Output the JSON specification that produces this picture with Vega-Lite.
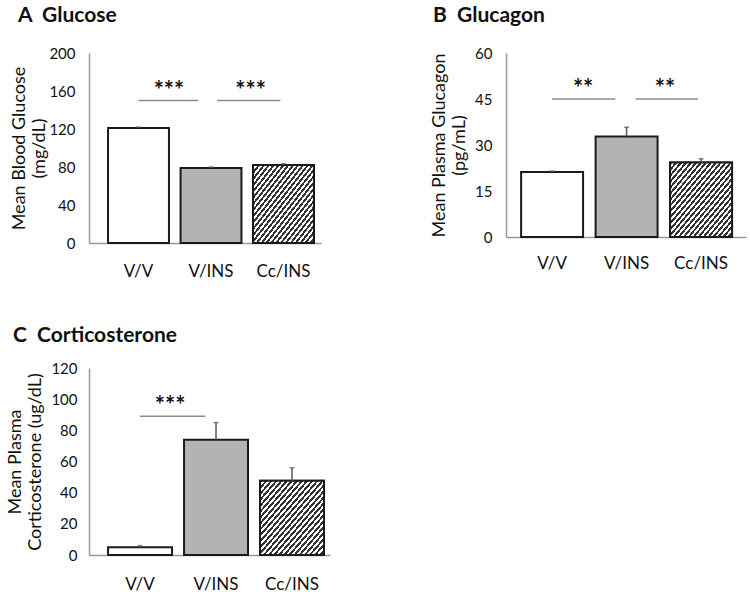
{
  "$schema": "https://vega.github.io/schema/vega-lite/v6.json",
  "background": "white",
  "padding": {"left": 6, "top": 5, "right": 5, "bottom": 3},
  "config": {
    "font": "Lato",
    "view": {"stroke": null},
    "axis": {"grid": false, "domainColor": "#9a9a9a", "domainWidth": 1.5, "ticks": false, "labelOverlap": false, "labelColor": "#111", "labelFont": "Lato", "titleFont": "Lato", "titleColor": "#111", "titleFontWeight": "normal"},
    "title": {"font": "Lato", "fontSize": 21, "fontWeight": "bold", "anchor": "start", "color": "#111", "frame": "group"}
  },
  "bounds": "flush",
  "columns": 2,
  "spacing": {"row": 125, "column": 176},
  "concat": [
        {
          "title": {"text": "A\u00a0\u00a0Glucose", "offset": 20, "dx": -71},
          "width": 232, "height": 190,
          "data": {"values": [
            {"group": "V/V", "mean": 121, "upper": 122},
            {"group": "V/INS", "mean": 79, "upper": 80},
            {"group": "Cc/INS", "mean": 82, "upper": 83.5}
          ]},
          "layer": [
            {"mark": {"type": "bar", "stroke": "#1a1a1a", "strokeWidth": 2},
             "encoding": {
               "x": {"field": "group", "type": "nominal", "scale": {"domain": ["V/V", "V/INS", "Cc/INS"], "paddingInner": 0.16, "paddingOuter": 0.18, "align": 0.73}, "axis": {"title": null, "labelAngle": 0, "labelFontSize": 17, "labelPadding": 20}},
               "y": {"field": "mean", "type": "quantitative", "scale": {"domain": [0, 200], "nice": false}, "axis": {"values": [0, 40, 80, 120, 160, 200], "tickCount": 20, "labelOverlap": false, "title": ["Mean Blood Glucose", "(mg/dL)"], "titleFontSize": 18, "titleLineHeight": 20, "labelFontSize": 15, "labelPadding": 14, "titlePadding": 0}},
               "fill": {"field": "group", "type": "nominal", "scale": {"domain": ["V/V", "V/INS", "Cc/INS"], "range": ["#ffffff", "#b3b3b3", "#ffffff"]}, "legend": null}
             }},
            {"transform": [{"filter": "datum.group === 'Cc/INS'"}],
             "mark": {"type": "bar", "stroke": "#1a1a1a", "strokeWidth": 2, "fill": {"gradient": "linear", "x1": 0, "y1": 0, "x2": 1, "y2": 1, "stops": [
{"offset":0,"color":"#333"},{"offset":0.02,"color":"#333"},{"offset":0.02,"color":"#fff"},{"offset":0.04,"color":"#fff"},
{"offset":0.04,"color":"#333"},{"offset":0.06,"color":"#333"},{"offset":0.06,"color":"#fff"},{"offset":0.08,"color":"#fff"},
{"offset":0.08,"color":"#333"},{"offset":0.1,"color":"#333"},{"offset":0.1,"color":"#fff"},{"offset":0.12,"color":"#fff"},
{"offset":0.12,"color":"#333"},{"offset":0.14,"color":"#333"},{"offset":0.14,"color":"#fff"},{"offset":0.16,"color":"#fff"},
{"offset":0.16,"color":"#333"},{"offset":0.18,"color":"#333"},{"offset":0.18,"color":"#fff"},{"offset":0.2,"color":"#fff"},
{"offset":0.2,"color":"#333"},{"offset":0.22,"color":"#333"},{"offset":0.22,"color":"#fff"},{"offset":0.24,"color":"#fff"},
{"offset":0.24,"color":"#333"},{"offset":0.26,"color":"#333"},{"offset":0.26,"color":"#fff"},{"offset":0.28,"color":"#fff"},
{"offset":0.28,"color":"#333"},{"offset":0.3,"color":"#333"},{"offset":0.3,"color":"#fff"},{"offset":0.32,"color":"#fff"},
{"offset":0.32,"color":"#333"},{"offset":0.34,"color":"#333"},{"offset":0.34,"color":"#fff"},{"offset":0.36,"color":"#fff"},
{"offset":0.36,"color":"#333"},{"offset":0.38,"color":"#333"},{"offset":0.38,"color":"#fff"},{"offset":0.4,"color":"#fff"},
{"offset":0.4,"color":"#333"},{"offset":0.42,"color":"#333"},{"offset":0.42,"color":"#fff"},{"offset":0.44,"color":"#fff"},
{"offset":0.44,"color":"#333"},{"offset":0.46,"color":"#333"},{"offset":0.46,"color":"#fff"},{"offset":0.48,"color":"#fff"},
{"offset":0.48,"color":"#333"},{"offset":0.5,"color":"#333"},{"offset":0.5,"color":"#fff"},{"offset":0.52,"color":"#fff"},
{"offset":0.52,"color":"#333"},{"offset":0.54,"color":"#333"},{"offset":0.54,"color":"#fff"},{"offset":0.56,"color":"#fff"},
{"offset":0.56,"color":"#333"},{"offset":0.58,"color":"#333"},{"offset":0.58,"color":"#fff"},{"offset":0.6,"color":"#fff"},
{"offset":0.6,"color":"#333"},{"offset":0.62,"color":"#333"},{"offset":0.62,"color":"#fff"},{"offset":0.64,"color":"#fff"},
{"offset":0.64,"color":"#333"},{"offset":0.66,"color":"#333"},{"offset":0.66,"color":"#fff"},{"offset":0.68,"color":"#fff"},
{"offset":0.68,"color":"#333"},{"offset":0.7,"color":"#333"},{"offset":0.7,"color":"#fff"},{"offset":0.72,"color":"#fff"},
{"offset":0.72,"color":"#333"},{"offset":0.74,"color":"#333"},{"offset":0.74,"color":"#fff"},{"offset":0.76,"color":"#fff"},
{"offset":0.76,"color":"#333"},{"offset":0.78,"color":"#333"},{"offset":0.78,"color":"#fff"},{"offset":0.8,"color":"#fff"},
{"offset":0.8,"color":"#333"},{"offset":0.82,"color":"#333"},{"offset":0.82,"color":"#fff"},{"offset":0.84,"color":"#fff"},
{"offset":0.84,"color":"#333"},{"offset":0.86,"color":"#333"},{"offset":0.86,"color":"#fff"},{"offset":0.88,"color":"#fff"},
{"offset":0.88,"color":"#333"},{"offset":0.9,"color":"#333"},{"offset":0.9,"color":"#fff"},{"offset":0.92,"color":"#fff"},
{"offset":0.92,"color":"#333"},{"offset":0.94,"color":"#333"},{"offset":0.94,"color":"#fff"},{"offset":0.96,"color":"#fff"},
{"offset":0.96,"color":"#333"},{"offset":0.98,"color":"#333"},{"offset":0.98,"color":"#fff"},{"offset":1,"color":"#fff"}]}},
             "encoding": {"x": {"field": "group", "type": "nominal"}, "y": {"field": "mean", "type": "quantitative"}}},
            {"mark": {"type": "rule", "color": "#555", "strokeWidth": 1.5},
             "encoding": {"x": {"field": "group", "type": "nominal"}, "y": {"field": "mean", "type": "quantitative"}, "y2": {"field": "upper"}}},
            {"mark": {"type": "tick", "color": "#555", "thickness": 1.5, "size": 5, "orient": "horizontal"},
             "encoding": {"x": {"field": "group", "type": "nominal"}, "y": {"field": "upper", "type": "quantitative"}}},
            {"data": {"values": [
              {"from": "V/V", "to": "V/INS", "y": 150, "stars": "***"},
              {"from": "V/INS", "to": "Cc/INS", "y": 150, "stars": "***"}
            ]},
             "layer": [
               {"transform": [{"filter": "datum.from === 'V/V'"}], "mark": {"type": "rule", "color": "#8c8c8c", "strokeWidth": 1.5},
                "encoding": {"x": {"field": "from", "type": "nominal", "bandPosition": 0.5}, "x2": {"field": "to", "bandPosition": 0.29}, "y": {"field": "y", "type": "quantitative"}}},
               {"transform": [{"filter": "datum.from === 'V/INS'"}], "mark": {"type": "rule", "color": "#8c8c8c", "strokeWidth": 1.5},
                "encoding": {"x": {"field": "from", "type": "nominal", "bandPosition": 0.6}, "x2": {"field": "to", "bandPosition": 0.45}, "y": {"field": "y", "type": "quantitative"}}},
               {"transform": [{"filter": "datum.from === 'V/V'"}], "mark": {"type": "text", "fontSize": 24, "fontWeight": "bold", "baseline": "alphabetic", "dy": -2, "color": "#111"},
                "encoding": {"x": {"field": "from", "type": "nominal", "bandPosition": 1.0}, "y": {"field": "y", "type": "quantitative"}, "text": {"field": "stars"}}},
               {"transform": [{"filter": "datum.from === 'V/INS'"}], "mark": {"type": "text", "fontSize": 24, "fontWeight": "bold", "baseline": "alphabetic", "dy": -2, "color": "#111"},
                "encoding": {"x": {"field": "from", "type": "nominal", "bandPosition": 1.15}, "y": {"field": "y", "type": "quantitative"}, "text": {"field": "stars"}}}
             ]}
          ]
        },
        {
          "title": {"text": "B\u00a0\u00a0Glucagon", "offset": 20, "dx": -73},
          "width": 240, "height": 184,
          "data": {"values": [
            {"group": "V/V", "mean": 21.2, "upper": 21.5},
            {"group": "V/INS", "mean": 32.8, "upper": 35.8},
            {"group": "Cc/INS", "mean": 24.3, "upper": 25.5}
          ]},
          "layer": [
            {"mark": {"type": "bar", "stroke": "#1a1a1a", "strokeWidth": 2},
             "encoding": {
               "x": {"field": "group", "type": "nominal", "scale": {"domain": ["V/V", "V/INS", "Cc/INS"], "paddingInner": 0.168, "paddingOuter": 0.195, "align": 0.52}, "axis": {"title": null, "labelAngle": 0, "labelFontSize": 17, "labelPadding": 18}},
               "y": {"field": "mean", "type": "quantitative", "scale": {"domain": [0, 60], "nice": false}, "axis": {"values": [0, 15, 30, 45, 60], "tickCount": 20, "labelOverlap": false, "title": ["Mean Plasma Glucagon", "(pg/mL)"], "titleFontSize": 18, "labelFontSize": 15, "labelPadding": 14, "titlePadding": 6}},
               "fill": {"field": "group", "type": "nominal", "scale": {"domain": ["V/V", "V/INS", "Cc/INS"], "range": ["#ffffff", "#b3b3b3", "#ffffff"]}, "legend": null}
             }},
            {"transform": [{"filter": "datum.group === 'Cc/INS'"}],
             "mark": {"type": "bar", "stroke": "#1a1a1a", "strokeWidth": 2, "fill": {"gradient": "linear", "x1": 0, "y1": 0, "x2": 1, "y2": 1, "stops": [
{"offset":0,"color":"#333"},{"offset":0.02,"color":"#333"},{"offset":0.02,"color":"#fff"},{"offset":0.04,"color":"#fff"},
{"offset":0.04,"color":"#333"},{"offset":0.06,"color":"#333"},{"offset":0.06,"color":"#fff"},{"offset":0.08,"color":"#fff"},
{"offset":0.08,"color":"#333"},{"offset":0.1,"color":"#333"},{"offset":0.1,"color":"#fff"},{"offset":0.12,"color":"#fff"},
{"offset":0.12,"color":"#333"},{"offset":0.14,"color":"#333"},{"offset":0.14,"color":"#fff"},{"offset":0.16,"color":"#fff"},
{"offset":0.16,"color":"#333"},{"offset":0.18,"color":"#333"},{"offset":0.18,"color":"#fff"},{"offset":0.2,"color":"#fff"},
{"offset":0.2,"color":"#333"},{"offset":0.22,"color":"#333"},{"offset":0.22,"color":"#fff"},{"offset":0.24,"color":"#fff"},
{"offset":0.24,"color":"#333"},{"offset":0.26,"color":"#333"},{"offset":0.26,"color":"#fff"},{"offset":0.28,"color":"#fff"},
{"offset":0.28,"color":"#333"},{"offset":0.3,"color":"#333"},{"offset":0.3,"color":"#fff"},{"offset":0.32,"color":"#fff"},
{"offset":0.32,"color":"#333"},{"offset":0.34,"color":"#333"},{"offset":0.34,"color":"#fff"},{"offset":0.36,"color":"#fff"},
{"offset":0.36,"color":"#333"},{"offset":0.38,"color":"#333"},{"offset":0.38,"color":"#fff"},{"offset":0.4,"color":"#fff"},
{"offset":0.4,"color":"#333"},{"offset":0.42,"color":"#333"},{"offset":0.42,"color":"#fff"},{"offset":0.44,"color":"#fff"},
{"offset":0.44,"color":"#333"},{"offset":0.46,"color":"#333"},{"offset":0.46,"color":"#fff"},{"offset":0.48,"color":"#fff"},
{"offset":0.48,"color":"#333"},{"offset":0.5,"color":"#333"},{"offset":0.5,"color":"#fff"},{"offset":0.52,"color":"#fff"},
{"offset":0.52,"color":"#333"},{"offset":0.54,"color":"#333"},{"offset":0.54,"color":"#fff"},{"offset":0.56,"color":"#fff"},
{"offset":0.56,"color":"#333"},{"offset":0.58,"color":"#333"},{"offset":0.58,"color":"#fff"},{"offset":0.6,"color":"#fff"},
{"offset":0.6,"color":"#333"},{"offset":0.62,"color":"#333"},{"offset":0.62,"color":"#fff"},{"offset":0.64,"color":"#fff"},
{"offset":0.64,"color":"#333"},{"offset":0.66,"color":"#333"},{"offset":0.66,"color":"#fff"},{"offset":0.68,"color":"#fff"},
{"offset":0.68,"color":"#333"},{"offset":0.7,"color":"#333"},{"offset":0.7,"color":"#fff"},{"offset":0.72,"color":"#fff"},
{"offset":0.72,"color":"#333"},{"offset":0.74,"color":"#333"},{"offset":0.74,"color":"#fff"},{"offset":0.76,"color":"#fff"},
{"offset":0.76,"color":"#333"},{"offset":0.78,"color":"#333"},{"offset":0.78,"color":"#fff"},{"offset":0.8,"color":"#fff"},
{"offset":0.8,"color":"#333"},{"offset":0.82,"color":"#333"},{"offset":0.82,"color":"#fff"},{"offset":0.84,"color":"#fff"},
{"offset":0.84,"color":"#333"},{"offset":0.86,"color":"#333"},{"offset":0.86,"color":"#fff"},{"offset":0.88,"color":"#fff"},
{"offset":0.88,"color":"#333"},{"offset":0.9,"color":"#333"},{"offset":0.9,"color":"#fff"},{"offset":0.92,"color":"#fff"},
{"offset":0.92,"color":"#333"},{"offset":0.94,"color":"#333"},{"offset":0.94,"color":"#fff"},{"offset":0.96,"color":"#fff"},
{"offset":0.96,"color":"#333"},{"offset":0.98,"color":"#333"},{"offset":0.98,"color":"#fff"},{"offset":1,"color":"#fff"}]}},
             "encoding": {"x": {"field": "group", "type": "nominal"}, "y": {"field": "mean", "type": "quantitative"}}},
            {"mark": {"type": "rule", "color": "#555", "strokeWidth": 1.5},
             "encoding": {"x": {"field": "group", "type": "nominal"}, "y": {"field": "mean", "type": "quantitative"}, "y2": {"field": "upper"}}},
            {"mark": {"type": "tick", "color": "#555", "thickness": 1.5, "size": 5, "orient": "horizontal"},
             "encoding": {"x": {"field": "group", "type": "nominal"}, "y": {"field": "upper", "type": "quantitative"}}},
            {"data": {"values": [
              {"from": "V/V", "to": "V/INS", "y": 45, "stars": "**"},
              {"from": "V/INS", "to": "Cc/INS", "y": 45, "stars": "**"}
            ]},
             "layer": [
               {"transform": [{"filter": "datum.from === 'V/V'"}], "mark": {"type": "rule", "color": "#8c8c8c", "strokeWidth": 1.5},
                "encoding": {"x": {"field": "from", "type": "nominal", "bandPosition": 0.5}, "x2": {"field": "to", "bandPosition": 0.32}, "y": {"field": "y", "type": "quantitative"}}},
               {"transform": [{"filter": "datum.from === 'V/INS'"}], "mark": {"type": "rule", "color": "#8c8c8c", "strokeWidth": 1.5},
                "encoding": {"x": {"field": "from", "type": "nominal", "bandPosition": 0.645}, "x2": {"field": "to", "bandPosition": 0.45}, "y": {"field": "y", "type": "quantitative"}}},
               {"transform": [{"filter": "datum.from === 'V/V'"}], "mark": {"type": "text", "fontSize": 24, "fontWeight": "bold", "baseline": "alphabetic", "dy": -2, "color": "#111"},
                "encoding": {"x": {"field": "from", "type": "nominal", "bandPosition": 1.0}, "y": {"field": "y", "type": "quantitative"}, "text": {"field": "stars"}}},
               {"transform": [{"filter": "datum.from === 'V/INS'"}], "mark": {"type": "text", "fontSize": 24, "fontWeight": "bold", "baseline": "alphabetic", "dy": -2, "color": "#111"},
                "encoding": {"x": {"field": "from", "type": "nominal", "bandPosition": 1.12}, "y": {"field": "y", "type": "quantitative"}, "text": {"field": "stars"}}}
             ]}
          ]
        },
    {
      "title": {"text": "C\u00a0\u00a0Corticosterone", "offset": 15, "dx": -76},
      "width": 241, "height": 187,
      "data": {"values": [
        {"group": "V/V", "mean": 5, "upper": 6},
        {"group": "V/INS", "mean": 74, "upper": 85},
        {"group": "Cc/INS", "mean": 47.7, "upper": 56}
      ]},
      "layer": [
        {"mark": {"type": "bar", "stroke": "#1a1a1a", "strokeWidth": 2},
         "encoding": {
           "x": {"field": "group", "type": "nominal", "scale": {"domain": ["V/V", "V/INS", "Cc/INS"], "paddingInner": 0.158, "paddingOuter": 0.165, "align": 0.76}, "axis": {"title": null, "labelAngle": 0, "labelFontSize": 17, "labelPadding": 21}},
           "y": {"field": "mean", "type": "quantitative", "scale": {"domain": [0, 120], "nice": false}, "axis": {"values": [0, 20, 40, 60, 80, 100, 120], "tickCount": 20, "labelOverlap": false, "title": ["Mean Plasma", "Corticosterone (ug/dL)"], "titleFontSize": 18, "labelFontSize": 15, "labelPadding": 12, "titlePadding": 6}},
           "fill": {"field": "group", "type": "nominal", "scale": {"domain": ["V/V", "V/INS", "Cc/INS"], "range": ["#ffffff", "#b3b3b3", "#ffffff"]}, "legend": null}
         }},
        {"transform": [{"filter": "datum.group === 'Cc/INS'"}],
         "mark": {"type": "bar", "stroke": "#1a1a1a", "strokeWidth": 2, "fill": {"gradient": "linear", "x1": 0, "y1": 0, "x2": 1, "y2": 1, "stops": [
{"offset":0,"color":"#333"},{"offset":0.02,"color":"#333"},{"offset":0.02,"color":"#fff"},{"offset":0.04,"color":"#fff"},
{"offset":0.04,"color":"#333"},{"offset":0.06,"color":"#333"},{"offset":0.06,"color":"#fff"},{"offset":0.08,"color":"#fff"},
{"offset":0.08,"color":"#333"},{"offset":0.1,"color":"#333"},{"offset":0.1,"color":"#fff"},{"offset":0.12,"color":"#fff"},
{"offset":0.12,"color":"#333"},{"offset":0.14,"color":"#333"},{"offset":0.14,"color":"#fff"},{"offset":0.16,"color":"#fff"},
{"offset":0.16,"color":"#333"},{"offset":0.18,"color":"#333"},{"offset":0.18,"color":"#fff"},{"offset":0.2,"color":"#fff"},
{"offset":0.2,"color":"#333"},{"offset":0.22,"color":"#333"},{"offset":0.22,"color":"#fff"},{"offset":0.24,"color":"#fff"},
{"offset":0.24,"color":"#333"},{"offset":0.26,"color":"#333"},{"offset":0.26,"color":"#fff"},{"offset":0.28,"color":"#fff"},
{"offset":0.28,"color":"#333"},{"offset":0.3,"color":"#333"},{"offset":0.3,"color":"#fff"},{"offset":0.32,"color":"#fff"},
{"offset":0.32,"color":"#333"},{"offset":0.34,"color":"#333"},{"offset":0.34,"color":"#fff"},{"offset":0.36,"color":"#fff"},
{"offset":0.36,"color":"#333"},{"offset":0.38,"color":"#333"},{"offset":0.38,"color":"#fff"},{"offset":0.4,"color":"#fff"},
{"offset":0.4,"color":"#333"},{"offset":0.42,"color":"#333"},{"offset":0.42,"color":"#fff"},{"offset":0.44,"color":"#fff"},
{"offset":0.44,"color":"#333"},{"offset":0.46,"color":"#333"},{"offset":0.46,"color":"#fff"},{"offset":0.48,"color":"#fff"},
{"offset":0.48,"color":"#333"},{"offset":0.5,"color":"#333"},{"offset":0.5,"color":"#fff"},{"offset":0.52,"color":"#fff"},
{"offset":0.52,"color":"#333"},{"offset":0.54,"color":"#333"},{"offset":0.54,"color":"#fff"},{"offset":0.56,"color":"#fff"},
{"offset":0.56,"color":"#333"},{"offset":0.58,"color":"#333"},{"offset":0.58,"color":"#fff"},{"offset":0.6,"color":"#fff"},
{"offset":0.6,"color":"#333"},{"offset":0.62,"color":"#333"},{"offset":0.62,"color":"#fff"},{"offset":0.64,"color":"#fff"},
{"offset":0.64,"color":"#333"},{"offset":0.66,"color":"#333"},{"offset":0.66,"color":"#fff"},{"offset":0.68,"color":"#fff"},
{"offset":0.68,"color":"#333"},{"offset":0.7,"color":"#333"},{"offset":0.7,"color":"#fff"},{"offset":0.72,"color":"#fff"},
{"offset":0.72,"color":"#333"},{"offset":0.74,"color":"#333"},{"offset":0.74,"color":"#fff"},{"offset":0.76,"color":"#fff"},
{"offset":0.76,"color":"#333"},{"offset":0.78,"color":"#333"},{"offset":0.78,"color":"#fff"},{"offset":0.8,"color":"#fff"},
{"offset":0.8,"color":"#333"},{"offset":0.82,"color":"#333"},{"offset":0.82,"color":"#fff"},{"offset":0.84,"color":"#fff"},
{"offset":0.84,"color":"#333"},{"offset":0.86,"color":"#333"},{"offset":0.86,"color":"#fff"},{"offset":0.88,"color":"#fff"},
{"offset":0.88,"color":"#333"},{"offset":0.9,"color":"#333"},{"offset":0.9,"color":"#fff"},{"offset":0.92,"color":"#fff"},
{"offset":0.92,"color":"#333"},{"offset":0.94,"color":"#333"},{"offset":0.94,"color":"#fff"},{"offset":0.96,"color":"#fff"},
{"offset":0.96,"color":"#333"},{"offset":0.98,"color":"#333"},{"offset":0.98,"color":"#fff"},{"offset":1,"color":"#fff"}]}},
         "encoding": {"x": {"field": "group", "type": "nominal"}, "y": {"field": "mean", "type": "quantitative"}}},
        {"mark": {"type": "rule", "color": "#555", "strokeWidth": 1.5},
         "encoding": {"x": {"field": "group", "type": "nominal"}, "y": {"field": "mean", "type": "quantitative"}, "y2": {"field": "upper"}}},
        {"mark": {"type": "tick", "color": "#555", "thickness": 1.5, "size": 5, "orient": "horizontal"},
         "encoding": {"x": {"field": "group", "type": "nominal"}, "y": {"field": "upper", "type": "quantitative"}}},
        {"data": {"values": [
          {"from": "V/V", "to": "V/INS", "y": 89, "stars": "***"}
        ]},
         "layer": [
           {"mark": {"type": "rule", "color": "#8c8c8c", "strokeWidth": 1.5},
            "encoding": {"x": {"field": "from", "type": "nominal", "bandPosition": 0.5}, "x2": {"field": "to", "bandPosition": 0.33}, "y": {"field": "y", "type": "quantitative"}}},
           {"mark": {"type": "text", "fontSize": 24, "fontWeight": "bold", "baseline": "alphabetic", "dy": -2, "color": "#111"},
            "encoding": {"x": {"field": "from", "type": "nominal", "bandPosition": 0.97}, "y": {"field": "y", "type": "quantitative"}, "text": {"field": "stars"}}}
         ]}
      ]
    }
  ]
}
